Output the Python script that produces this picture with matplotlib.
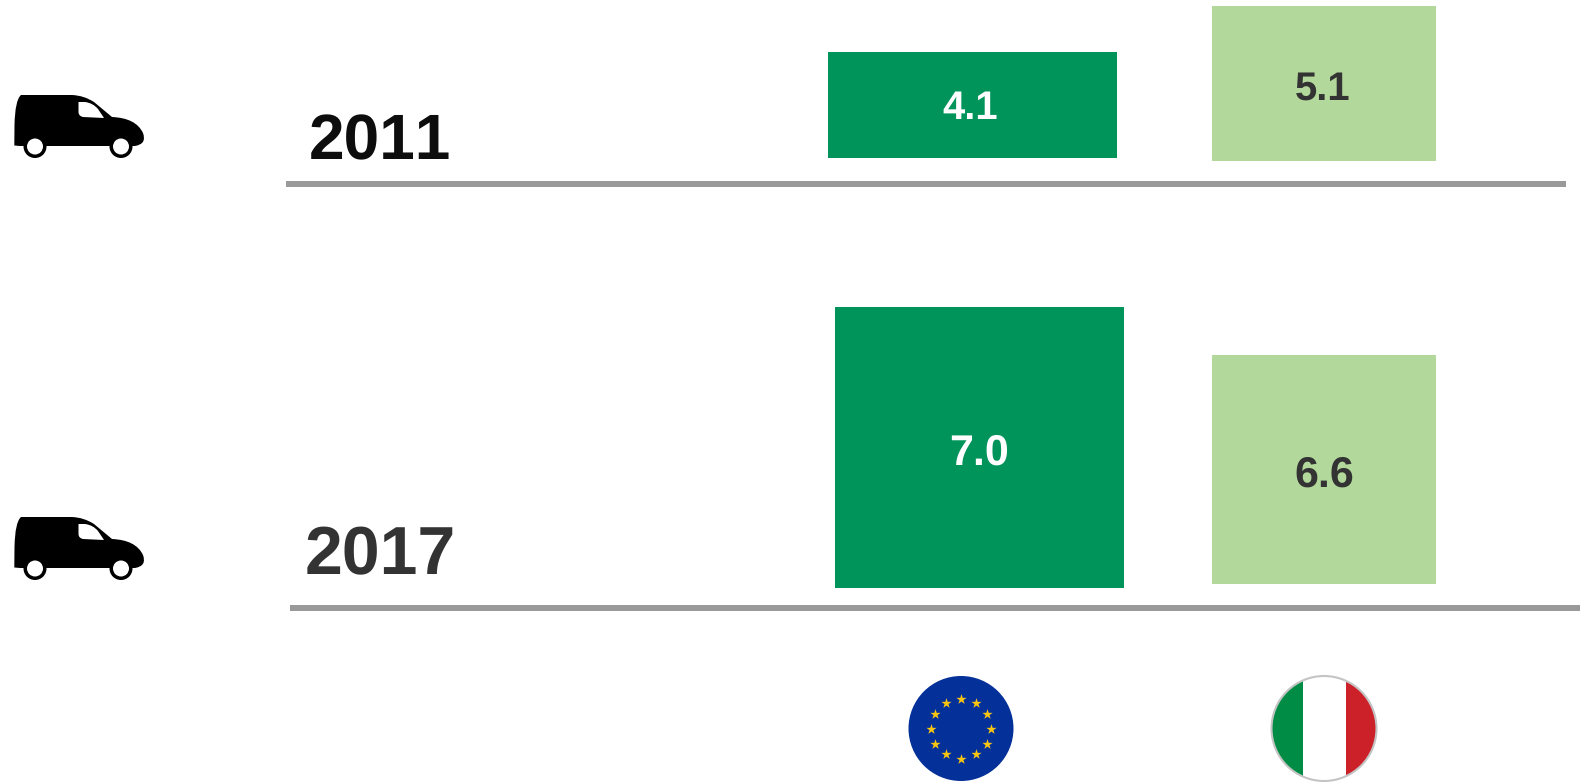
import numpy as np
import matplotlib
matplotlib.use("Agg")
import matplotlib.pyplot as plt
from matplotlib.patches import Circle, PathPatch, Rectangle
from matplotlib.path import Path

plt.rcParams['font.family'] = ['Liberation Sans', 'DejaVu Sans']
plt.rcParams['text.hinting'] = 'none'
plt.rcParams['text.hinting_factor'] = 1
plt.rcParams['text.kerning_factor'] = 6

# data
years = ["2011", "2017"]
eu_values = [4.1, 7.0]
it_values = [5.1, 6.6]
# bars are not to a common scale in the original, so heights are read separately
eu_heights = [106, 281]
it_heights = [155, 229]

GREEN = "#00945B"
LIGHT = "#B2D89B"
GREY = "#999999"

fig = plt.figure(figsize=(15.8, 7.82), dpi=100)
ax = fig.add_axes([0, 0, 1, 1])
ax.set_xlim(0, 1580)
ax.set_ylim(782, 0)
ax.axis("off")

# Bars

eu_left = [828, 835]
eu_bottom = [158, 588]
it_left = [1212, 1212]
it_bottom = [161, 584]

ax.bar(eu_left, eu_heights, width=289, bottom=np.array(eu_bottom) - np.array(eu_heights),
       align="edge", color=GREEN)
ax.bar(it_left, it_heights, width=224, bottom=np.array(it_bottom) - np.array(it_heights),
       align="edge", color=LIGHT)

# Value labels

eu_label_pos = [(970, 105), (979, 449)]
it_label_pos = [(1323, 85), (1324, 471)]
eu_label_size = [29, 31]
it_label_size = [29, 31]

for value, (x, y), size in zip(eu_values, eu_label_pos, eu_label_size):
    ax.text(x, y, f"{value:.1f}", color="white", fontsize=size, fontweight="bold",
            ha="center", va="center_baseline")
for value, (x, y), size in zip(it_values, it_label_pos, it_label_size):
    ax.text(x, y, f"{value:.1f}", color="#333333", fontsize=size, fontweight="bold",
            ha="center", va="center_baseline")

# Baselines and years

ax.plot([286, 1566], [184, 184], color=GREY, lw=4.3, solid_capstyle="butt")
ax.plot([290, 1580], [608, 608], color=GREY, lw=4.3, solid_capstyle="butt")

ax.text(309, 159, years[0], color="#0D0D0D", fontsize=46, fontweight="bold", ha="left", va="baseline")
ax.text(305, 574, years[1], color="#333333", fontsize=49, fontweight="bold", ha="left", va="baseline")


# Van icon

def draw_van(dy):
    body = [
        (Path.MOVETO, (14.3, 145.5)),
        (Path.LINETO, (14.5, 125)),
        (Path.CURVE3, (15, 100)),
        (Path.CURVE3, (21, 95)),
        (Path.LINETO, (72, 95)),
        (Path.CURVE3, (84, 95.5)),
        (Path.CURVE3, (94, 102)),
        (Path.LINETO, (112, 117)),
        (Path.CURVE3, (136, 118)),
        (Path.CURVE3, (143, 133)),
        (Path.CURVE3, (147, 144)),
        (Path.CURVE3, (135, 146)),
        (Path.LINETO, (20, 146)),
        (Path.CLOSEPOLY, (14.3, 145.5)),
    ]
    codes, verts = zip(*body)
    verts = [(x, y + dy) for x, y in verts]
    ax.add_patch(PathPatch(Path(verts, codes), fc="black", ec="none"))

    window = [
        (Path.MOVETO, (78.5, 102)),
        (Path.LINETO, (85, 102)),
        (Path.CURVE3, (93, 103)),
        (Path.CURVE3, (98, 109)),
        (Path.LINETO, (104, 118)),
        (Path.LINETO, (83, 117)),
        (Path.CURVE3, (78.5, 116)),
        (Path.CURVE3, (78.5, 112)),
        (Path.CLOSEPOLY, (78.5, 102)),
    ]
    codes, verts = zip(*window)
    verts = [(x, y + dy) for x, y in verts]
    ax.add_patch(PathPatch(Path(verts, codes), fc="white", ec="none"))

    for cx in [35, 121]:
        ax.add_patch(Circle((cx, 146.5 + dy), 11.5, fc="black", ec="none"))
        ax.add_patch(Circle((cx, 146.5 + dy), 8, fc="white", ec="none"))


draw_van(0)
draw_van(422)

# Flags

eu_c = (961, 728.5)
it_c = (1324, 728.5)
flag_r = 52.5

ax.add_patch(Circle(eu_c, flag_r, fc="#04309A", ec="none"))
angles = np.deg2rad(np.arange(0, 360, 30))
ax.scatter(eu_c[0] + 30 * np.cos(angles), eu_c[1] + 30 * np.sin(angles),
           marker="*", s=60, color="#F8C512", linewidths=0)

clip = Circle(it_c, flag_r, transform=ax.transData)
for x0, x1, col in [(1270, 1303, "#008C45"), (1303, 1346, "white"), (1346, 1378, "#CD212A")]:
    r = Rectangle((x0, it_c[1] - flag_r - 1), x1 - x0, 2 * flag_r + 2, fc=col, ec="none")
    ax.add_patch(r)
    r.set_clip_path(clip)
ax.add_patch(Circle(it_c, flag_r, fc="none", ec="#C4C4C4", lw=1.5))

fig.savefig("out.png", dpi=100)
